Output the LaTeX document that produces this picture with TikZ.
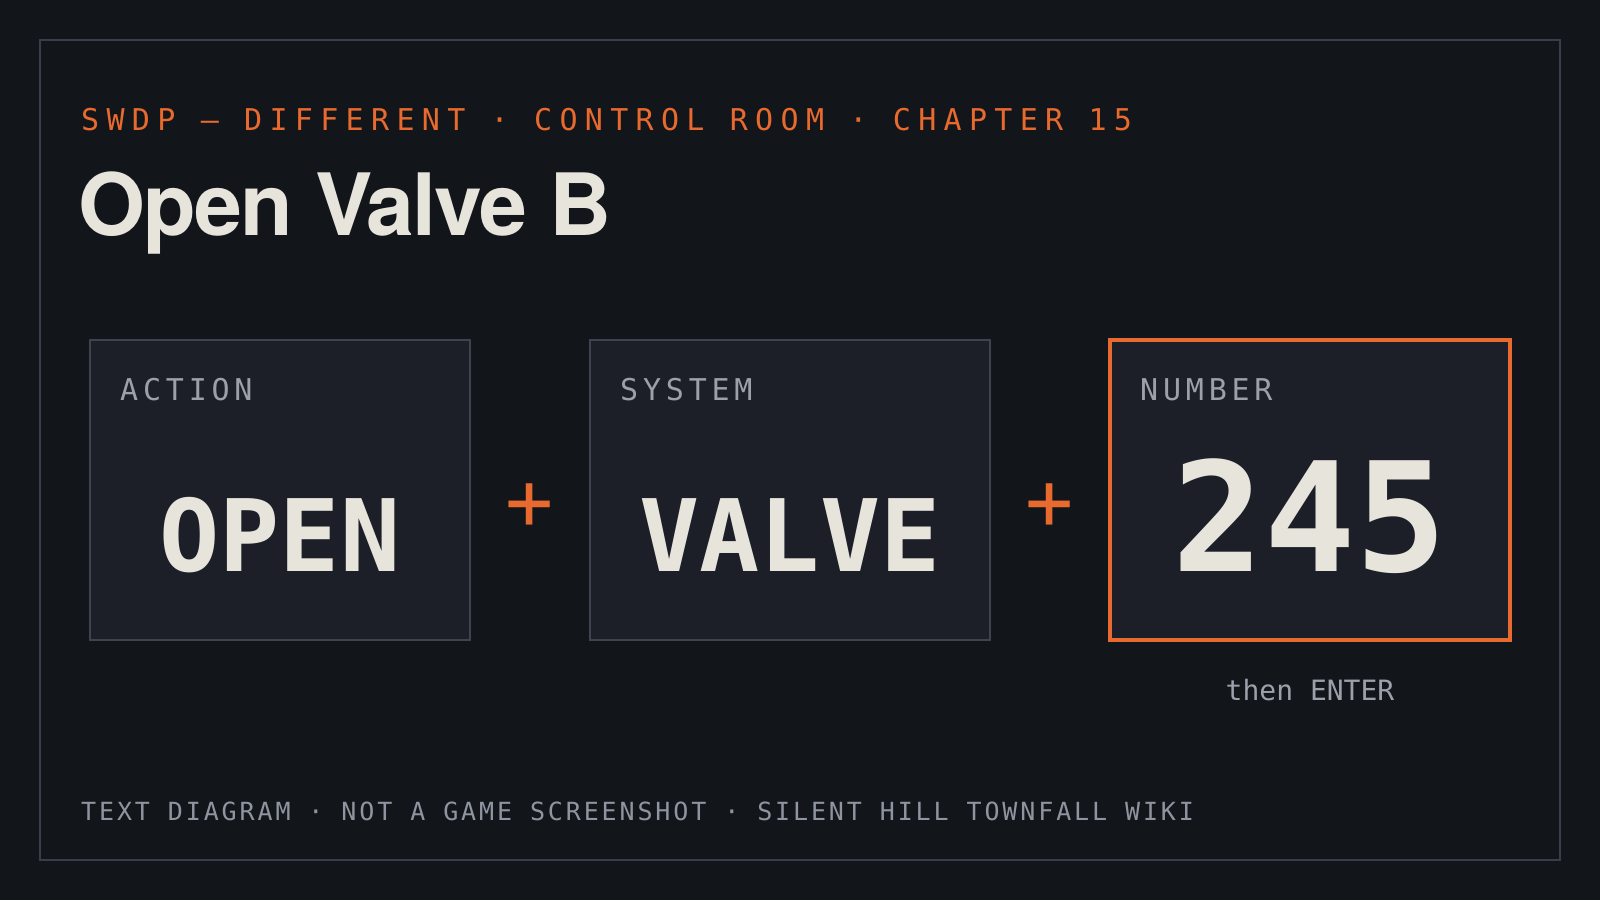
\documentclass[tikz,border=0pt]{standalone}
\usepackage{fontspec}
\setmainfont{TeX Gyre Heros}
\usetikzlibrary{positioning}

\definecolor{bg}{HTML}{121519}
\definecolor{frame}{HTML}{3A3E4B}
\definecolor{boxfill}{HTML}{1C1F28}
\definecolor{boxline}{HTML}{3E4350}
\definecolor{accent}{HTML}{E86A2E}
\definecolor{ink}{HTML}{E7E4DC}
\definecolor{labgray}{HTML}{9BA0AB}
\definecolor{footgray}{HTML}{8F95A0}

\newfontfamily\kickerfam[LetterSpace=24.4]{DejaVu Sans Mono}
\newfontfamily\labelfam[LetterSpace=16]{DejaVu Sans Mono}
\newfontfamily\footfam[LetterSpace=11.5]{DejaVu Sans Mono}
\newfontfamily\plainmono{DejaVu Sans Mono}
\newfontfamily\titlefam[LetterSpace=-2]{TeX Gyre Heros}

\begin{document}
\begin{tikzpicture}[x=1pt, y=-1pt,
    box/.style={draw=boxline, fill=boxfill, line width=1.5pt,
      minimum width=400pt, minimum height=300pt, inner sep=0pt, outer sep=0pt},
    lab/.style={anchor=base west, inner sep=0pt, text=labgray,
      font=\labelfam\fontsize{30pt}{36pt}\selectfont},
    word/.style={anchor=base, inner sep=0pt, text=ink,
      font=\plainmono\bfseries\fontsize{100pt}{110pt}\selectfont},
    plus/.style={inner sep=0pt, text=accent,
      font=\plainmono\fontsize{80pt}{90pt}\selectfont}]
    \useasboundingbox (0,0) rectangle (1600,900);
    \fill[bg] (0,0) rectangle (1600,900);
    \draw[frame, line width=1.5pt] (40,40) rectangle (1560,860);

    % heading
    \node (kicker) [anchor=base west, inner sep=0pt, text=accent,
      font=\kickerfam\fontsize{30pt}{36pt}\selectfont] at (81,130)
      {SWDP — DIFFERENT · CONTROL ROOM · CHAPTER 15};
    \node (title) [anchor=base west, inner sep=0pt, text=ink,
      font=\titlefam\bfseries\fontsize{86pt}{96pt}\selectfont] at (78,235)
      {Open Valve B};

    % the three fields
    \node (1) [box, minimum width=380pt] at (280,490) {};
    \node (2) [box, right=120pt of 1] {};
    \node (3) [box, draw=accent, line width=3.5pt, right=120pt of 2] {};

    \node (p1) [plus] at ([xshift=60pt, yshift=-17pt]1.east) {+};
    \node (p2) [plus] at ([xshift=60pt, yshift=-17pt]2.east) {+};

    \node (l1) [lab] at ([xshift=30pt, yshift=-60pt]1.north west) {ACTION};
    \node (l2) [lab] at ([xshift=30pt, yshift=-60pt]2.north west) {SYSTEM};
    \node (l3) [lab] at ([xshift=30pt, yshift=-60pt]3.north west) {NUMBER};

    \node (w1) [word] at ([yshift=69pt]1.south) {OPEN};
    \node (w2) [word] at ([yshift=69pt]2.south) {VALVE};
    \node (w3) [word, font=\plainmono\bfseries\fontsize{152pt}{160pt}\selectfont]
      at ([yshift=69pt]3.south) {245};

    \node (enter) [anchor=base, inner sep=0pt, text=labgray,
      font=\plainmono\fontsize{28pt}{34pt}\selectfont]
      at ([yshift=-60pt]3.south) {then ENTER};

    % footer
    \node (foot) [anchor=base west, inner sep=0pt, text=footgray,
      font=\footfam\fontsize{25pt}{30pt}\selectfont] at (81,820)
      {TEXT DIAGRAM · NOT A GAME SCREENSHOT · SILENT HILL TOWNFALL WIKI};
\end{tikzpicture}
\end{document}
